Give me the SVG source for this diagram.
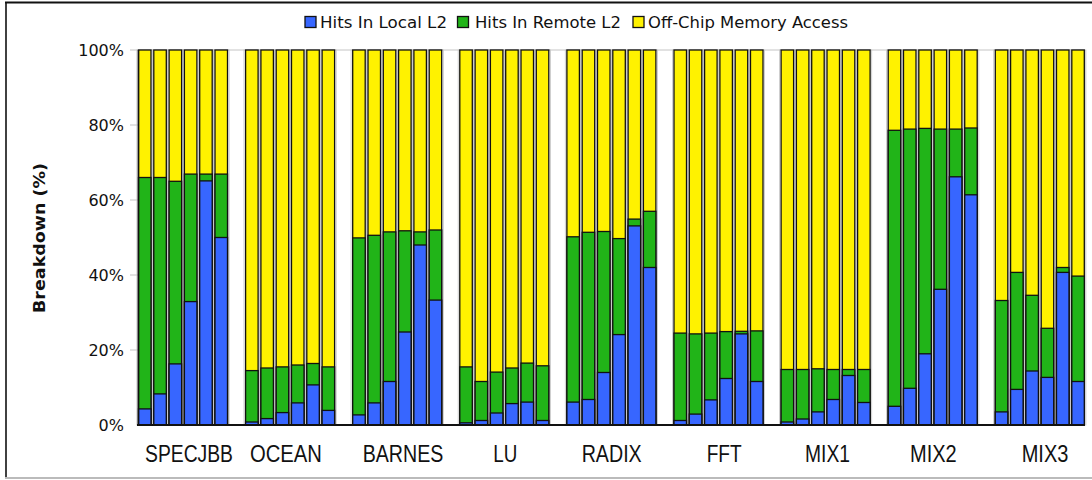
<svg xmlns="http://www.w3.org/2000/svg" width="1092" height="480" viewBox="0 0 1092 480">
<style>
text{font-family:"DejaVu Sans","Liberation Sans",sans-serif;fill:#111}
.tick{font-size:16px;text-anchor:end}
.leg{font-size:16.5px}
.xl{font-family:"Liberation Sans Narrow","Liberation Sans",Arial,sans-serif;font-size:23px}
.y{fill:#FFF200;stroke:#111;stroke-width:1.3}
.g{fill:#21B418;stroke:#111;stroke-width:1.3}
.b{fill:#3766FF;stroke:#111;stroke-width:1.3}
.h{fill:none;stroke:#c4c4c4;stroke-width:0.8}
</style>
<defs>
<rect id="halo" class="h" x="-1.6" y="50" width="15.7" height="375"/>
<rect id="yb" class="y" x="0" y="50" width="12.5" height="375"/>
</defs>
<rect width="1092" height="480" fill="#fff"/>
<g id="frame" fill="none">
<line x1="5" y1="2.5" x2="1092" y2="2.5" stroke="#111" stroke-width="1.8"/>
<line x1="6" y1="2" x2="6" y2="478" stroke="#111" stroke-width="1.6"/>
<line x1="5" y1="478" x2="1092" y2="478" stroke="#bbb" stroke-width="2"/>
</g>
<g id="legend">
<rect x="305" y="16.5" width="11" height="11" class="b"/>
<text class="leg" x="320" y="28.3" textLength="127" lengthAdjust="spacingAndGlyphs">Hits In Local L2</text>
<rect x="457.5" y="16.5" width="11" height="11" class="g"/>
<text class="leg" x="475" y="28.3" textLength="146" lengthAdjust="spacingAndGlyphs">Hits In Remote L2</text>
<rect x="633" y="16.5" width="11" height="11" class="y"/>
<text class="leg" x="648" y="28.3" textLength="200" lengthAdjust="spacingAndGlyphs">Off-Chip Memory Access</text>
</g>
<g id="axes">
<g stroke="#c4c4c4" stroke-width="1">
<line x1="138" y1="50" x2="1085" y2="50"/>
<line x1="1085" y1="50" x2="1085" y2="425"/>
<line x1="130" y1="50" x2="138" y2="50"/>
<line x1="130" y1="125" x2="138" y2="125"/>
<line x1="130" y1="200" x2="138" y2="200"/>
<line x1="130" y1="275" x2="138" y2="275"/>
<line x1="130" y1="350" x2="138" y2="350"/>
</g>
<text class="tick" x="124" y="56">100%</text>
<text class="tick" x="124" y="131">80%</text>
<text class="tick" x="124" y="206">60%</text>
<text class="tick" x="124" y="281">40%</text>
<text class="tick" x="124" y="356">20%</text>
<text class="tick" x="124" y="431">0%</text>
<text transform="translate(45,238) rotate(-90)" text-anchor="middle" font-size="16" font-weight="bold" textLength="150" lengthAdjust="spacingAndGlyphs">Breakdown (%)</text>
</g>
<g id="halos">
<use href="#halo" x="138.5"/><use href="#halo" x="153.8"/><use href="#halo" x="169.1"/><use href="#halo" x="184.4"/><use href="#halo" x="199.7"/><use href="#halo" x="215"/>
<use href="#halo" x="245.6"/><use href="#halo" x="260.9"/><use href="#halo" x="276.2"/><use href="#halo" x="291.5"/><use href="#halo" x="306.8"/><use href="#halo" x="322.1"/>
<use href="#halo" x="352.7"/><use href="#halo" x="368"/><use href="#halo" x="383.3"/><use href="#halo" x="398.6"/><use href="#halo" x="413.9"/><use href="#halo" x="429.2"/>
<use href="#halo" x="459.8"/><use href="#halo" x="475.1"/><use href="#halo" x="490.4"/><use href="#halo" x="505.7"/><use href="#halo" x="521"/><use href="#halo" x="536.3"/>
<use href="#halo" x="566.9"/><use href="#halo" x="582.2"/><use href="#halo" x="597.5"/><use href="#halo" x="612.8"/><use href="#halo" x="628.1"/><use href="#halo" x="643.4"/>
<use href="#halo" x="674"/><use href="#halo" x="689.3"/><use href="#halo" x="704.6"/><use href="#halo" x="719.9"/><use href="#halo" x="735.2"/><use href="#halo" x="750.5"/>
<use href="#halo" x="781.1"/><use href="#halo" x="796.4"/><use href="#halo" x="811.7"/><use href="#halo" x="827"/><use href="#halo" x="842.3"/><use href="#halo" x="857.6"/>
<use href="#halo" x="888.2"/><use href="#halo" x="903.5"/><use href="#halo" x="918.8"/><use href="#halo" x="934.1"/><use href="#halo" x="949.4"/><use href="#halo" x="964.7"/>
<use href="#halo" x="995.3"/><use href="#halo" x="1010.6"/><use href="#halo" x="1025.9"/><use href="#halo" x="1041.2"/><use href="#halo" x="1056.5"/><use href="#halo" x="1071.8"/>
</g>
<g id="specjbb">
<use href="#yb" x="138.5"/><rect class="g" x="138.5" y="177.5" width="12.5" height="247.5"/><rect class="b" x="138.5" y="408.9" width="12.5" height="16.1"/>
<use href="#yb" x="153.8"/><rect class="g" x="153.8" y="177.5" width="12.5" height="247.5"/><rect class="b" x="153.8" y="393.9" width="12.5" height="31.1"/>
<use href="#yb" x="169.1"/><rect class="g" x="169.1" y="181.3" width="12.5" height="243.7"/><rect class="b" x="169.1" y="363.9" width="12.5" height="61.1"/>
<use href="#yb" x="184.4"/><rect class="g" x="184.4" y="174.1" width="12.5" height="250.9"/><rect class="b" x="184.4" y="301.6" width="12.5" height="123.4"/>
<use href="#yb" x="199.7"/><rect class="g" x="199.7" y="174.1" width="12.5" height="250.9"/><rect class="b" x="199.7" y="180.9" width="12.5" height="244.1"/>
<use href="#yb" x="215"/><rect class="g" x="215" y="174.1" width="12.5" height="250.9"/><rect class="b" x="215" y="237.5" width="12.5" height="187.5"/>
<text class="xl" x="145" y="461.5" textLength="88" lengthAdjust="spacingAndGlyphs">SPECJBB</text>
</g>
<g id="ocean">
<use href="#yb" x="245.6"/><rect class="g" x="245.6" y="370.6" width="12.5" height="54.4"/><rect class="b" x="245.6" y="422" width="12.5" height="3"/>
<use href="#yb" x="260.9"/><rect class="g" x="260.9" y="368" width="12.5" height="57"/><rect class="b" x="260.9" y="418.6" width="12.5" height="6.4"/>
<use href="#yb" x="276.2"/><rect class="g" x="276.2" y="366.9" width="12.5" height="58.1"/><rect class="b" x="276.2" y="412.6" width="12.5" height="12.4"/>
<use href="#yb" x="291.5"/><rect class="g" x="291.5" y="365" width="12.5" height="60"/><rect class="b" x="291.5" y="402.9" width="12.5" height="22.1"/>
<use href="#yb" x="306.8"/><rect class="g" x="306.8" y="363.5" width="12.5" height="61.5"/><rect class="b" x="306.8" y="384.9" width="12.5" height="40.1"/>
<use href="#yb" x="322.1"/><rect class="g" x="322.1" y="366.9" width="12.5" height="58.1"/><rect class="b" x="322.1" y="410.4" width="12.5" height="14.6"/>
<text class="xl" x="250" y="461.5" textLength="72" lengthAdjust="spacingAndGlyphs">OCEAN</text>
</g>
<g id="barnes">
<use href="#yb" x="352.7"/><rect class="g" x="352.7" y="237.9" width="12.5" height="187.1"/><rect class="b" x="352.7" y="414.9" width="12.5" height="10.1"/>
<use href="#yb" x="368"/><rect class="g" x="368" y="235.3" width="12.5" height="189.7"/><rect class="b" x="368" y="402.9" width="12.5" height="22.1"/>
<use href="#yb" x="383.3"/><rect class="g" x="383.3" y="231.9" width="12.5" height="193.1"/><rect class="b" x="383.3" y="381.5" width="12.5" height="43.5"/>
<use href="#yb" x="398.6"/><rect class="g" x="398.6" y="230.8" width="12.5" height="194.2"/><rect class="b" x="398.6" y="332" width="12.5" height="93"/>
<use href="#yb" x="413.9"/><rect class="g" x="413.9" y="231.9" width="12.5" height="193.1"/><rect class="b" x="413.9" y="245" width="12.5" height="180"/>
<use href="#yb" x="429.2"/><rect class="g" x="429.2" y="230" width="12.5" height="195"/><rect class="b" x="429.2" y="300.1" width="12.5" height="124.9"/>
<text class="xl" x="362.7" y="461.5" textLength="80.6" lengthAdjust="spacingAndGlyphs">BARNES</text>
</g>
<g id="lu">
<use href="#yb" x="459.8"/><rect class="g" x="459.8" y="366.9" width="12.5" height="58.1"/><rect class="b" x="459.8" y="422.8" width="12.5" height="2.2"/>
<use href="#yb" x="475.1"/><rect class="g" x="475.1" y="381.5" width="12.5" height="43.5"/><rect class="b" x="475.1" y="420.5" width="12.5" height="4.5"/>
<use href="#yb" x="490.4"/><rect class="g" x="490.4" y="372.1" width="12.5" height="52.9"/><rect class="b" x="490.4" y="413" width="12.5" height="12"/>
<use href="#yb" x="505.7"/><rect class="g" x="505.7" y="368" width="12.5" height="57"/><rect class="b" x="505.7" y="403.6" width="12.5" height="21.4"/>
<use href="#yb" x="521"/><rect class="g" x="521" y="363.1" width="12.5" height="61.9"/><rect class="b" x="521" y="402.1" width="12.5" height="22.9"/>
<use href="#yb" x="536.3"/><rect class="g" x="536.3" y="365.8" width="12.5" height="59.2"/><rect class="b" x="536.3" y="420.5" width="12.5" height="4.5"/>
<text class="xl" x="493.3" y="461.5" textLength="24" lengthAdjust="spacingAndGlyphs">LU</text>
</g>
<g id="radix">
<use href="#yb" x="566.9"/><rect class="g" x="566.9" y="236.8" width="12.5" height="188.2"/><rect class="b" x="566.9" y="402.1" width="12.5" height="22.9"/>
<use href="#yb" x="582.2"/><rect class="g" x="582.2" y="232.3" width="12.5" height="192.7"/><rect class="b" x="582.2" y="399.5" width="12.5" height="25.5"/>
<use href="#yb" x="597.5"/><rect class="g" x="597.5" y="231.5" width="12.5" height="193.5"/><rect class="b" x="597.5" y="372.5" width="12.5" height="52.5"/>
<use href="#yb" x="612.8"/><rect class="g" x="612.8" y="238.6" width="12.5" height="186.4"/><rect class="b" x="612.8" y="334.6" width="12.5" height="90.4"/>
<use href="#yb" x="628.1"/><rect class="g" x="628.1" y="219.1" width="12.5" height="205.9"/><rect class="b" x="628.1" y="225.9" width="12.5" height="199.1"/>
<use href="#yb" x="643.4"/><rect class="g" x="643.4" y="211.3" width="12.5" height="213.7"/><rect class="b" x="643.4" y="267.5" width="12.5" height="157.5"/>
<text class="xl" x="581.7" y="461.5" textLength="60" lengthAdjust="spacingAndGlyphs">RADIX</text>
</g>
<g id="fft">
<use href="#yb" x="674"/><rect class="g" x="674" y="333.1" width="12.5" height="91.9"/><rect class="b" x="674" y="420.5" width="12.5" height="4.5"/>
<use href="#yb" x="689.3"/><rect class="g" x="689.3" y="333.9" width="12.5" height="91.1"/><rect class="b" x="689.3" y="414.1" width="12.5" height="10.9"/>
<use href="#yb" x="704.6"/><rect class="g" x="704.6" y="333.1" width="12.5" height="91.9"/><rect class="b" x="704.6" y="399.9" width="12.5" height="25.1"/>
<use href="#yb" x="719.9"/><rect class="g" x="719.9" y="331.6" width="12.5" height="93.4"/><rect class="b" x="719.9" y="378.5" width="12.5" height="46.5"/>
<use href="#yb" x="735.2"/><rect class="g" x="735.2" y="331.3" width="12.5" height="93.7"/><rect class="b" x="735.2" y="333.9" width="12.5" height="91.1"/>
<use href="#yb" x="750.5"/><rect class="g" x="750.5" y="330.9" width="12.5" height="94.1"/><rect class="b" x="750.5" y="381.5" width="12.5" height="43.5"/>
<text class="xl" x="706.7" y="461.5" textLength="35" lengthAdjust="spacingAndGlyphs">FFT</text>
</g>
<g id="mix1">
<use href="#yb" x="781.1"/><rect class="g" x="781.1" y="369.5" width="12.5" height="55.5"/><rect class="b" x="781.1" y="422" width="12.5" height="3"/>
<use href="#yb" x="796.4"/><rect class="g" x="796.4" y="369.5" width="12.5" height="55.5"/><rect class="b" x="796.4" y="419" width="12.5" height="6"/>
<use href="#yb" x="811.7"/><rect class="g" x="811.7" y="368.8" width="12.5" height="56.2"/><rect class="b" x="811.7" y="411.9" width="12.5" height="13.1"/>
<use href="#yb" x="827"/><rect class="g" x="827" y="369.5" width="12.5" height="55.5"/><rect class="b" x="827" y="399.5" width="12.5" height="25.5"/>
<use href="#yb" x="842.3"/><rect class="g" x="842.3" y="369.5" width="12.5" height="55.5"/><rect class="b" x="842.3" y="375.5" width="12.5" height="49.5"/>
<use href="#yb" x="857.6"/><rect class="g" x="857.6" y="369.5" width="12.5" height="55.5"/><rect class="b" x="857.6" y="402.5" width="12.5" height="22.5"/>
<text class="xl" x="805" y="461.5" textLength="45" lengthAdjust="spacingAndGlyphs">MIX1</text>
</g>
<g id="mix2">
<use href="#yb" x="888.2"/><rect class="g" x="888.2" y="130.3" width="12.5" height="294.7"/><rect class="b" x="888.2" y="406.3" width="12.5" height="18.7"/>
<use href="#yb" x="903.5"/><rect class="g" x="903.5" y="129.1" width="12.5" height="295.9"/><rect class="b" x="903.5" y="388.3" width="12.5" height="36.7"/>
<use href="#yb" x="918.8"/><rect class="g" x="918.8" y="128.4" width="12.5" height="296.6"/><rect class="b" x="918.8" y="353.8" width="12.5" height="71.2"/>
<use href="#yb" x="934.1"/><rect class="g" x="934.1" y="129.1" width="12.5" height="295.9"/><rect class="b" x="934.1" y="289.3" width="12.5" height="135.7"/>
<use href="#yb" x="949.4"/><rect class="g" x="949.4" y="129.1" width="12.5" height="295.9"/><rect class="b" x="949.4" y="176.8" width="12.5" height="248.2"/>
<use href="#yb" x="964.7"/><rect class="g" x="964.7" y="128" width="12.5" height="297"/><rect class="b" x="964.7" y="194.8" width="12.5" height="230.2"/>
<text class="xl" x="910" y="461.5" textLength="46.7" lengthAdjust="spacingAndGlyphs">MIX2</text>
</g>
<g id="mix3">
<use href="#yb" x="995.3"/><rect class="g" x="995.3" y="300.5" width="12.5" height="124.5"/><rect class="b" x="995.3" y="411.9" width="12.5" height="13.1"/>
<use href="#yb" x="1010.6"/><rect class="g" x="1010.6" y="272.4" width="12.5" height="152.6"/><rect class="b" x="1010.6" y="389.4" width="12.5" height="35.6"/>
<use href="#yb" x="1025.9"/><rect class="g" x="1025.9" y="295.3" width="12.5" height="129.7"/><rect class="b" x="1025.9" y="371" width="12.5" height="54"/>
<use href="#yb" x="1041.2"/><rect class="g" x="1041.2" y="328.3" width="12.5" height="96.7"/><rect class="b" x="1041.2" y="377.4" width="12.5" height="47.6"/>
<use href="#yb" x="1056.5"/><rect class="g" x="1056.5" y="267.5" width="12.5" height="157.5"/><rect class="b" x="1056.5" y="272.4" width="12.5" height="152.6"/>
<use href="#yb" x="1071.8"/><rect class="g" x="1071.8" y="276.1" width="12.5" height="148.9"/><rect class="b" x="1071.8" y="381.5" width="12.5" height="43.5"/>
<text class="xl" x="1021.7" y="461.5" textLength="46.7" lengthAdjust="spacingAndGlyphs">MIX3</text>
</g>
<g id="baseline">
<line x1="137" y1="425" x2="1085" y2="425" stroke="#111" stroke-width="2"/>
<line x1="138.5" y1="50" x2="138.5" y2="425" stroke="#111" stroke-width="1.5"/>
</g>
</svg>
